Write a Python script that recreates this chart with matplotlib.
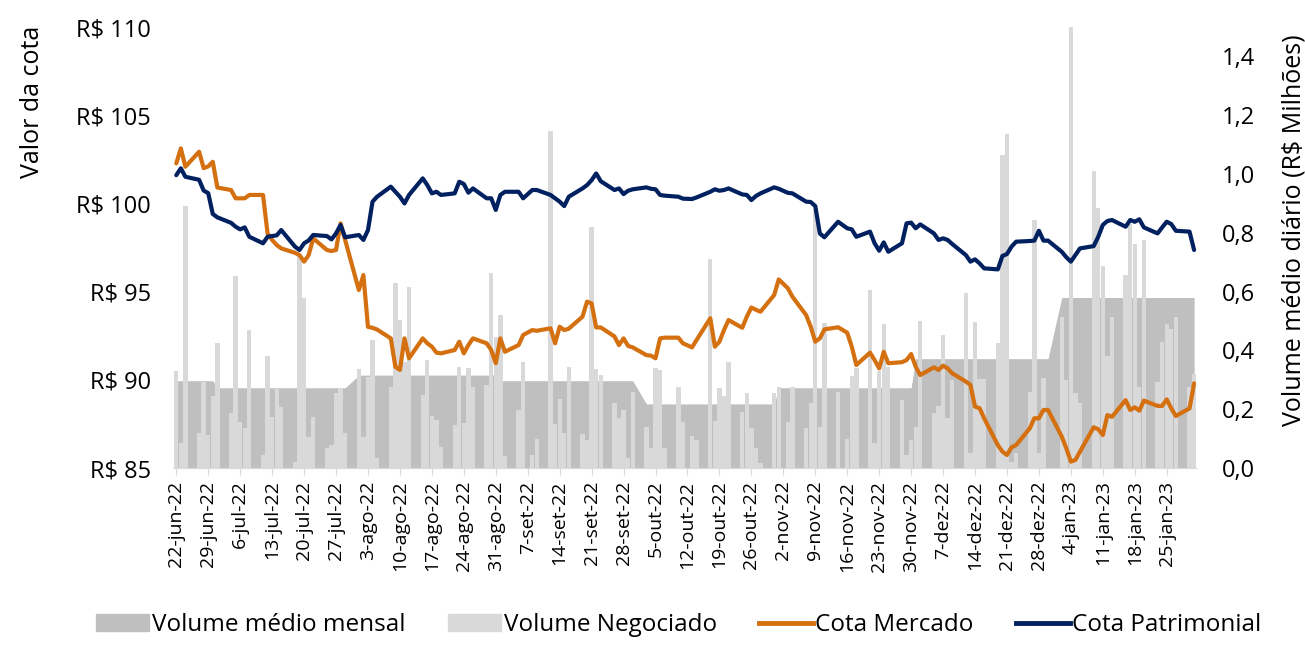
import pandas as pd
import matplotlib
matplotlib.use('Agg')
import matplotlib.pyplot as plt
from matplotlib.patches import Patch
from matplotlib.lines import Line2D

plt.rcParams['font.family'] = ['Open Sans', 'DejaVu Sans']

# datas de pregão (sem feriados)
feriados = ['2022-09-07', '2022-10-12', '2022-11-02', '2022-11-15']
datas = pd.bdate_range('2022-06-22', '2023-01-31')
datas = datas[~datas.isin(pd.to_datetime(feriados))]

cota_mercado = [
    # jun
    102.27, 103.12, 102.08, 102.93, 102.0, 102.1, 102.36,
    # jul
    100.9, 100.76, 100.29, 100.29, 100.29, 100.48, 100.48, 98.3, 97.93, 97.64, 97.45,
    97.2, 97.07, 96.7, 97.07, 98.02, 97.36, 97.3, 97.36, 98.87, 97.93,
    # ago
    95.09, 95.94, 93.0, 92.95, 92.85, 92.35, 90.74, 90.56, 92.35, 91.22, 92.35, 92.07,
    91.88, 91.54, 91.5, 91.69, 92.16, 91.5, 91.97, 92.35, 92.07, 91.69, 90.94,
    # set
    92.35, 91.59, 91.97, 92.54, 92.82, 92.78, 92.92, 92.07, 93.01, 92.82, 92.9, 93.58,
    94.43, 94.33, 92.97, 92.97, 92.46, 91.97, 92.35, 91.92, 91.84,
    # out
    91.4, 91.37, 91.22, 92.35, 92.39, 92.39, 92.07, 91.84, 92.26, 93.49, 91.88, 92.16,
    92.82, 93.39, 92.95, 93.58, 94.1, 93.97, 93.86, 94.81,
    # nov
    95.69, 95.19, 94.71, 93.67, 93.01, 92.16, 92.35, 92.86, 92.98, 92.67, 91.88, 90.84,
    91.54, 91.12, 90.65, 91.59, 90.94, 91.0, 91.12, 91.46,
    # dez
    90.74, 90.27, 90.71, 90.56, 90.8, 90.65, 90.37, 89.9, 89.71, 88.48, 88.39, 87.82,
    86.3, 85.93, 85.74, 86.17, 86.3, 87.25, 87.82, 87.82, 88.29, 88.29,
    # jan
    86.78, 86.12, 85.36, 85.46, 85.93, 87.31, 87.2, 86.87, 88.0, 87.9, 88.85, 88.29,
    88.44, 88.25, 88.82, 88.52, 88.52, 88.89, 88.38, 87.95, 88.38, 89.8,
]

cota_patrimonial = [
    # jun
    101.6, 101.99, 101.51, 101.34, 100.73, 100.58, 99.4,
    # jul
    99.21, 98.9, 98.68, 98.53, 98.64, 98.11, 97.74, 98.11, 98.15, 98.19, 98.49,
    97.55, 97.36, 97.74, 97.9, 98.21, 98.15, 97.96, 98.3, 98.78, 98.08,
    # ago
    98.21, 97.93, 98.49, 100.1, 100.38, 100.95, 100.66, 100.38, 100.0, 100.48, 101.42, 101.04,
    100.57, 100.66, 100.48, 100.57, 101.23, 101.1, 100.61, 100.85, 100.29, 100.29, 99.63,
    # set
    100.48, 100.66, 100.66, 100.29, 100.76, 100.76, 100.48, 100.29, 100.1, 99.85, 100.38, 100.85,
    101.04, 101.32, 101.7, 101.26, 100.76, 100.85, 100.53, 100.72, 100.8,
    # out
    100.91, 100.83, 100.8, 100.48, 100.44, 100.38, 100.27, 100.25, 100.34, 100.66, 100.8, 100.72,
    100.76, 100.85, 100.51, 100.48, 100.19, 100.42, 100.57, 100.91,
    # nov
    100.83, 100.6, 100.57, 100.1, 100.08, 99.85, 98.3, 98.08, 98.96, 98.59, 98.53, 98.11,
    98.4, 97.74, 97.32, 97.79, 97.26, 97.74, 98.87, 98.91,
    # dez
    98.59, 98.81, 98.3, 97.93, 98.02, 97.93, 97.7, 97.07, 96.7, 96.83, 96.6, 96.32,
    96.26, 97.02, 97.13, 97.55, 97.83, 97.87, 97.89, 98.45, 97.89, 97.89,
    # jan
    97.26, 96.95, 96.7, 97.07, 97.45, 97.58, 98.11, 98.78, 99.0, 99.06, 98.68, 99.06,
    98.96, 99.1, 98.64, 98.3, 98.64, 98.96, 98.83, 98.45, 98.4, 97.36,
]

# volume negociado diário (R$ milhões)
volume = [
    # jun
    0.331, 0.086, 0.892, 0.118, 0.294, 0.112, 0.246,
    # jul
    0.425, 0.188, 0.652, 0.158, 0.135, 0.47, 0.044, 0.381, 0.175, 0.268, 0.209,
    0.02, 0.72, 0.578, 0.107, 0.173, 0.067, 0.078, 0.254, 0.271, 0.118,
    # ago
    0.336, 0.105, 0.311, 0.434, 0.033, 0.277, 0.629, 0.504, 0.36, 0.615, 0.249, 0.368,
    0.177, 0.163, 0.073, 0.146, 0.343, 0.152, 0.34, 0.277, 0.283, 0.663, 0.444,
    # set
    0.521, 0.04, 0.198, 0.359, 0.045, 0.1, 1.148, 0.15, 0.235, 0.118, 0.342, 0.115,
    0.095, 0.82, 0.336, 0.317, 0.22, 0.169, 0.198, 0.033, 0.257,
    # out
    0.141, 0.067, 0.34, 0.335, 0.067, 0.277, 0.158, 0.11, 0.095, 0.71, 0.16, 0.271,
    0.245, 0.362, 0.192, 0.254, 0.137, 0.067, 0.016, 0.254,
    # nov
    0.277, 0.158, 0.275, 0.135, 0.22, 0.879, 0.141, 0.493, 0.26, 0.1, 0.313, 0.34,
    0.606, 0.084, 0.331, 0.49, 0.345, 0.232, 0.044, 0.095,
    # dez
    0.14, 0.5, 0.188, 0.211, 0.453, 0.169, 0.3, 0.595, 0.05, 0.498, 0.302, 0.302,
    0.425, 1.063, 1.136, 0.02, 0.05, 0.257, 0.842, 0.05, 0.305, 0.0,
    # jan
    0.515, 0.3, 1.503, 0.254, 0.22, 1.009, 0.884, 0.688, 0.381, 0.515, 0.657, 0.831,
    0.763, 0.277, 0.774, 0.291, 0.43, 0.49, 0.472, 0.515, 0.277, 0.32,
]

meses = ['2022-06', '2022-07', '2022-08', '2022-09', '2022-10', '2022-11', '2022-12', '2023-01']
volume_medio_mensal = [0.297, 0.273, 0.316, 0.297, 0.218, 0.273, 0.372, 0.580]

meses_pt = ['jan', 'fev', 'mar', 'abr', 'mai', 'jun', 'jul', 'ago', 'set', 'out', 'nov', 'dez']

assert len(datas) == len(cota_mercado) == len(cota_patrimonial) == len(volume)

media_dia = [volume_medio_mensal[meses.index(d.strftime('%Y-%m'))] for d in datas]

cor_media = '#bfbfbf'
cor_volume = '#d9d9d9'
cor_mercado = '#d4700f'
cor_patrimonial = '#002060'

fig = plt.figure(figsize=(13.05, 6.45), dpi=100)
ax = fig.add_axes([0.1326, 0.2744, 0.7846, 0.6837])   # volumes (eixo direito)
ax2 = ax.twinx()                                       # cotas (eixo esquerdo)

ax.fill_between(datas, 0, media_dia, color=cor_media, linewidth=0)
ax.bar(datas, volume, width=0.95, color=cor_volume, linewidth=0)
ax.set_ylim(0, 1.5)
ax.set_yticks([0, 0.2, 0.4, 0.6, 0.8, 1.0, 1.2, 1.4])
ax.set_yticklabels([f'{v:.1f}'.replace('.', ',') for v in ax.get_yticks()])
ax.yaxis.tick_right()
ax.yaxis.set_label_position('right')
ax.set_ylabel('Volume médio diário (R$ Milhões)', fontsize=18)
ax.yaxis.set_label_coords(1.083, 0.54)

ax2.plot(datas, cota_mercado, color=cor_mercado, linewidth=3.0, solid_capstyle='round')
ax2.plot(datas, cota_patrimonial, color=cor_patrimonial, linewidth=3.0, solid_capstyle='round')
ax2.set_ylim(85, 110)
ax2.set_yticks([85, 90, 95, 100, 105, 110])
ax2.set_yticklabels([f'R$ {v}' for v in [85, 90, 95, 100, 105, 110]])
ax2.yaxis.tick_left()
ax2.yaxis.set_label_position('left')
ax2.set_ylabel('Valor da cota', fontsize=18)
ax2.yaxis.set_label_coords(-0.125, 0.83)

ticks = pd.date_range('2022-06-22', '2023-01-31', freq='7D')
ax.set_xticks(ticks)
ax.set_xticklabels([f'{d.day}-{meses_pt[d.month - 1]}-{d.strftime("%y")}' for d in ticks],
                   rotation=90, fontsize=14)
ax.set_xlim(pd.Timestamp('2022-06-21 07:00'), pd.Timestamp('2023-01-31 15:00'))

for a in (ax, ax2):
    for s in ['top', 'left', 'right']:
        a.spines[s].set_visible(False)
    a.tick_params(axis='y', length=0, labelsize=17)
ax2.tick_params(axis='y', pad=16)
ax.tick_params(axis='y', pad=18)
ax2.spines['bottom'].set_visible(False)
ax.spines['bottom'].set_color('#d9d9d9')
ax.tick_params(axis='x', color='#d9d9d9', length=5, pad=4)

handles = [
    Patch(color=cor_media),
    Patch(color=cor_volume),
    Line2D([], [], color=cor_mercado, linewidth=3.5),
    Line2D([], [], color=cor_patrimonial, linewidth=3.5),
]
labels = ['Volume médio mensal', 'Volume Negociado', 'Cota Mercado', 'Cota Patrimonial']
fig.legend(handles, labels, loc='lower center', bbox_to_anchor=(0.52, -0.022), ncol=4,
           frameon=False, fontsize=17.5, handlelength=2.2, handletextpad=0.1, columnspacing=1.75)

fig.savefig('out.png', dpi=100)
